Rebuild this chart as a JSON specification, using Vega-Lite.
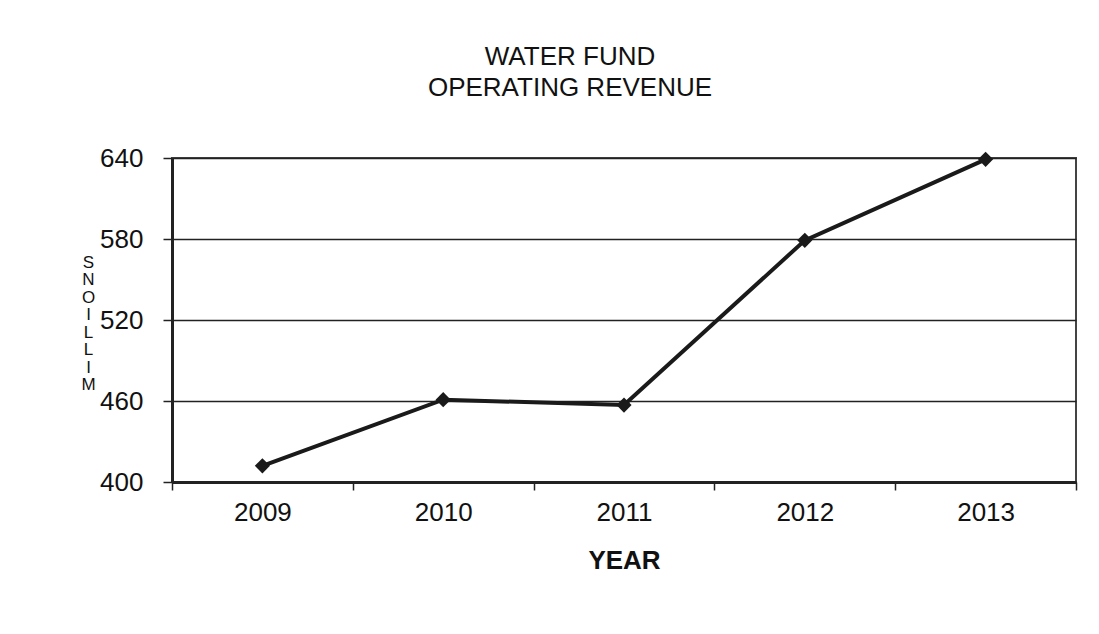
{
  "$schema": "https://vega.github.io/schema/vega-lite/v6.json",
  "autosize": "none",
  "width": 904,
  "height": 324,
  "padding": {"left": 172, "top": 158, "right": 23, "bottom": 152},
  "background": "white",
  "config": {
    "font": "Liberation Sans",
    "view": {"stroke": "#444", "strokeWidth": 2}
  },
  "title": {
    "text": ["WATER FUND", "OPERATING REVENUE"],
    "fontSize": 26,
    "fontWeight": "normal",
    "font": "Liberation Sans",
    "color": "#111",
    "lineHeight": 31,
    "anchor": "middle",
    "dx": -54,
    "offset": 44
  },
  "data": {
    "values": [
      {"year": "2009", "revenue": 412},
      {"year": "2010", "revenue": 461},
      {"year": "2011", "revenue": 457},
      {"year": "2012", "revenue": 579},
      {"year": "2013", "revenue": 639}
    ]
  },
  "encoding": {
    "x": {
      "field": "year",
      "type": "ordinal",
      "scale": {"type": "band", "paddingInner": 0, "paddingOuter": 0},
      "axis": {
        "title": "YEAR",
        "titleFontSize": 26,
        "titleFontWeight": "bold",
        "titleColor": "#111",
        "titlePadding": 22,
        "labelAngle": 0,
        "labelFontSize": 26,
        "labelColor": "#111",
        "labelPadding": 9,
        "tickBand": "extent",
        "tickSize": 8,
        "tickColor": "#222",
        "tickWidth": 1.5,
        "domainColor": "#222",
        "domainWidth": 3,
        "grid": false
      }
    },
    "y": {
      "field": "revenue",
      "type": "quantitative",
      "scale": {"domain": [400, 640], "nice": false, "zero": false},
      "axis": {
        "values": [400, 460, 520, 580, 640],
        "title": ["S", "N", "O", "I", "L", "L", "I", "M"],
        "titleAngle": 0,
        "titleFontSize": 17,
        "titleFontWeight": "normal",
        "titleColor": "#111",
        "titleLineHeight": 17.5,
        "titleAlign": "center",
        "titleBaseline": "top",
        "titleX": -84,
        "titleY": 96,
        "labelFontSize": 26,
        "labelColor": "#111",
        "labelPadding": 20,
        "tickSize": 9,
        "tickColor": "#222",
        "tickWidth": 1.5,
        "domainColor": "#222",
        "domainWidth": 3,
        "grid": true,
        "gridColor": "#222",
        "gridWidth": 1.5
      }
    }
  },
  "layer": [
    {
      "mark": {"type": "line", "color": "#1a1a1a", "strokeWidth": 4}
    },
    {
      "mark": {"type": "point", "shape": "diamond", "filled": true, "color": "#1a1a1a", "size": 230, "opacity": 1}
    }
  ]
}
